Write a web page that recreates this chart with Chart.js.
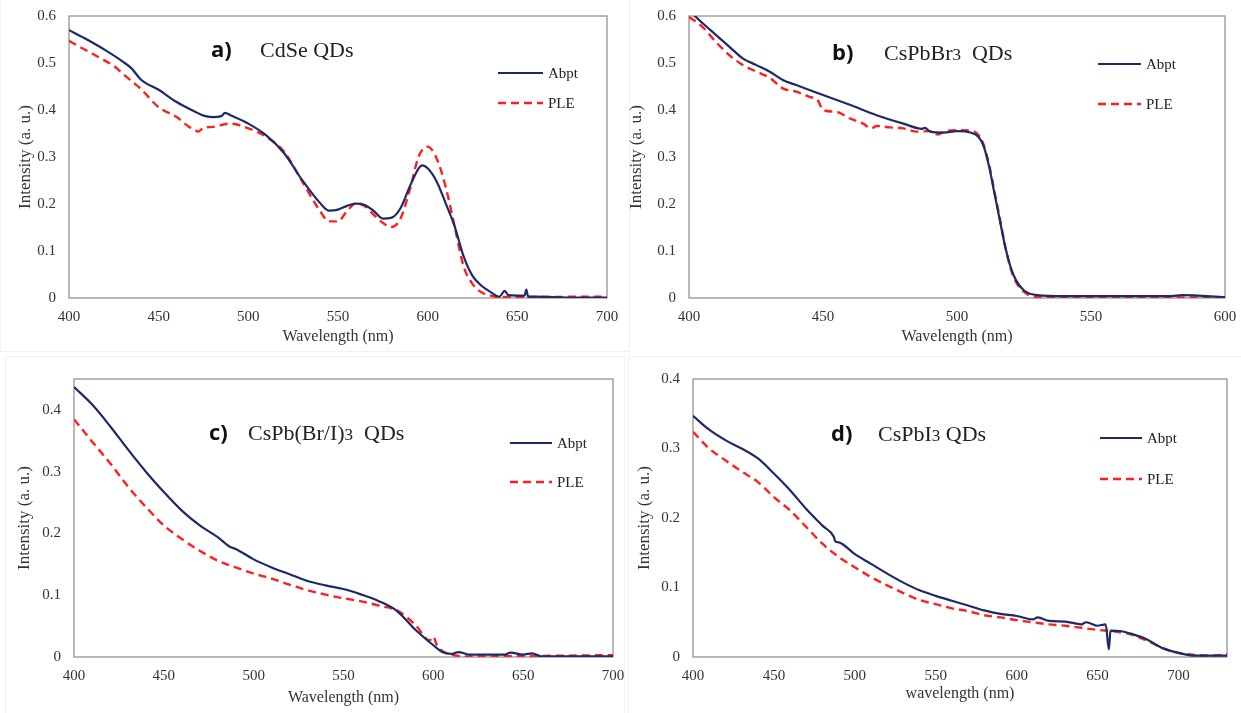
<!DOCTYPE html>
<html lang="en">
<head>
<meta charset="UTF-8">
<title>Abpt / PLE spectra</title>
<script src="https://cdn.jsdelivr.net/npm/chart.js"></script>
<style>
  body { margin: 0; background: #fff; }
  #wrap { position: relative; width: 1241px; height: 713px; overflow: hidden; }
  #wrap canvas { position: absolute; }
  .sep { position: absolute; border: 1px solid #f2f2f2; }
</style>
</head>
<body>
<div id="wrap">
  <div class="sep" style="left:0;top:-2px;width:628px;height:352px"></div>
  <div class="sep" style="left:5px;top:356px;width:618px;height:360px"></div>
  <div class="sep" style="left:628px;top:356px;width:616px;height:360px"></div>
  <canvas id="chartA" width="625" height="352" style="left:0;top:0"></canvas>
  <canvas id="chartB" width="616" height="352" style="left:625px;top:0"></canvas>
  <canvas id="chartC" width="625" height="357" style="left:0;top:356px"></canvas>
  <canvas id="chartD" width="616" height="357" style="left:625px;top:356px"></canvas>
</div>

<script>
// ---- data (wavelength in nm, intensity in a.u.) ----

// a) CdSe QDs
const aWlAbpt = [400,410,420,430,435,440,450,460,470,475,480,485,487,490,500,510,520,530,540,545,550,555,560,565,570,575,580,585,590,595,597,600,605,610,615,620,625,630,635,640,643,645,650,654,655,656,660,680,700];
const aAbpt   = [.570,.550,.528,.503,.488,.465,.443,.417,.397,.388,.385,.387,.394,.389,.371,.346,.308,.251,.202,.186,.188,.196,.201,.198,.185,.169,.171,.192,.237,.276,.282,.276,.248,.202,.153,.089,.047,.026,.013,.003,.015,.006,.005,.005,.018,.003,.003,.001,.001];
const aWlPle  = [400,410,420,425,430,440,450,460,467,470,472,475,480,490,500,510,520,530,540,545,550,555,560,565,570,575,580,585,590,595,600,605,610,615,620,625,630,635,640,700];
const aPle    = [.547,.526,.505,.494,.477,.445,.406,.385,.364,.358,.354,.362,.364,.371,.361,.343,.311,.248,.185,.163,.163,.185,.201,.195,.177,.160,.151,.170,.230,.301,.322,.297,.237,.153,.068,.030,.012,.005,.002,.003];

// b) CsPbBr3 QDs
const bWlAbpt = [400,405,410,415,420,425,430,435,440,450,460,470,480,487,488,490,495,500,505,508,510,512,514,516,518,520,522,525,530,540,560,580,584,600];
const bAbpt   = [.612,.585,.560,.535,.510,.496,.482,.464,.453,.432,.411,.389,.371,.360,.362,.354,.352,.355,.352,.343,.322,.279,.222,.165,.109,.066,.038,.016,.006,.004,.004,.004,.006,.002];
const bWlPle  = [400,405,410,415,420,425,430,435,440,445,448,450,455,460,465,468,470,475,480,485,490,493,495,500,505,508,510,512,514,516,518,520,522,525,530,600];
const bPle    = [.598,.577,.545,.517,.496,.482,.469,.446,.439,.428,.421,.400,.396,.382,.371,.361,.366,.363,.361,.354,.355,.348,.354,.357,.356,.347,.325,.283,.226,.169,.109,.063,.034,.013,.002,.001];

// c) CsPb(Br/I)3 QDs
const cWlAbpt = [400,410,420,430,440,450,460,470,480,487,490,500,510,520,530,540,550,560,570,580,590,600,605,610,614,620,640,643,650,655,660,700];
const cAbpt   = [.437,.409,.374,.336,.300,.267,.237,.213,.194,.178,.175,.158,.145,.134,.123,.116,.110,.101,.090,.074,.044,.019,.008,.005,.008,.004,.004,.007,.004,.006,.001,.001];
const cWlPle  = [400,410,420,430,440,450,460,470,480,490,500,510,520,530,540,550,560,570,580,590,598,600,602,610,620,700];
const cPle    = [.385,.349,.314,.276,.243,.213,.191,.172,.156,.145,.135,.127,.117,.108,.101,.095,.090,.083,.075,.052,.027,.033,.019,.004,.001,.003];

// d) CsPbI3 QDs
const dWlAbpt = [400,410,420,430,440,450,460,470,480,487,488,490,500,510,520,530,540,550,560,570,580,590,600,610,613,620,630,640,643,650,655,657,658,665,670,680,690,700,710,730];
const dAbpt   = [.347,.327,.312,.300,.286,.264,.240,.213,.189,.173,.166,.165,.148,.134,.120,.107,.096,.088,.081,.074,.067,.062,.059,.054,.057,.052,.051,.047,.050,.045,.047,.011,.038,.037,.034,.026,.013,.006,.002,.002];
const dWlPle  = [400,410,420,430,440,450,460,470,480,490,500,510,520,530,540,550,560,570,580,590,600,610,620,630,640,650,660,670,680,690,700,710,720,730];
const dPle    = [.324,.300,.283,.267,.252,.230,.211,.187,.163,.144,.129,.115,.103,.092,.082,.076,.070,.066,.060,.057,.053,.050,.047,.045,.042,.039,.037,.033,.024,.013,.006,.003,.002,.004];

const seriesNames = ['Abpt', 'PLE'];
const xTickLabels = [400, 450, 500, 550, 600, 650, 700];

const NAVY = '#1c2a68';
const RED = '#ff1f1f';
const SERIF = '"Liberation Serif", "Times New Roman", serif';

function pts(xs, ys) {
  return xs.map((x, i) => ({ x: x, y: ys[i] }));
}

// frame around the plot area + panel title + legend
const decor = {
  id: 'decor',
  beforeDatasetsDraw(chart) {
    const { ctx, chartArea: a } = chart;
    ctx.save();
    ctx.strokeStyle = '#8a8a8a';
    ctx.lineWidth = 1.2;
    ctx.strokeRect(a.left, a.top, a.right - a.left, a.bottom - a.top);
    ctx.restore();
  },
  afterDraw(chart, args, o) {
    const ctx = chart.ctx;
    ctx.save();
    ctx.textBaseline = 'alphabetic';
    ctx.fillStyle = '#111';
    ctx.font = 'bold 22px "Open Sans", "Noto Sans", sans-serif';
    ctx.fillText(o.letter, o.lx, o.by);
    let x = o.nx;
    o.name.forEach(p => {
      ctx.font = (p.small ? '17px ' : '22px ') + SERIF;
      ctx.fillStyle = '#222';
      ctx.fillText(p.t, x, o.by);
      x += ctx.measureText(p.t).width;
    });
    // legend
    ctx.font = '15px ' + SERIF;
    ctx.textBaseline = 'middle';
    chart.data.datasets.forEach((ds, i) => {
      const y = o.legY[i];
      ctx.beginPath();
      ctx.strokeStyle = ds.borderColor;
      ctx.lineWidth = ds.borderWidth;
      ctx.setLineDash(ds.borderDash || []);
      ctx.moveTo(o.legX[0], y);
      ctx.lineTo(o.legX[1], y);
      ctx.stroke();
      ctx.setLineDash([]);
      ctx.fillStyle = '#222';
      ctx.fillText(ds.label, o.legX[1] + 5, y + 1);
    });
    ctx.restore();
  }
};

function makeChart(id, p) {
  new Chart(document.getElementById(id), {
    type: 'line',
    data: {
      datasets: [
        { label: seriesNames[0], data: pts(p.wlA, p.abpt), borderColor: NAVY, borderWidth: 2.2 },
        { label: seriesNames[1], data: pts(p.wlP, p.ple), borderColor: RED, borderWidth: 2.4, borderDash: [8, 5] }
      ]
    },
    options: {
      responsive: false,
      animation: false,
      events: [],
      parsing: false,
      layout: { padding: p.pad },
      elements: { point: { radius: 0 }, line: { cubicInterpolationMode: 'monotone', fill: false } },
      plugins: {
        legend: { display: false },
        tooltip: { enabled: false },
        decor: p.decor
      },
      scales: {
        x: {
          type: 'linear',
          min: 400, max: p.xMax,
          // fixed height, and let the end labels overflow instead of shrinking the plot
          afterFit: s => { s.height = p.xH; s.paddingLeft = 0; s.paddingRight = 0; },
          afterBuildTicks: s => { s.ticks = xTickLabels.filter(v => v <= p.xMax).map(v => ({ value: v })); },
          grid: { display: false, drawTicks: false },
          border: { display: false },
          ticks: { padding: 10, color: '#333', font: { family: SERIF, size: 15 }, maxRotation: 0 },
          title: { display: true, text: p.xTitle, color: '#333', font: { family: SERIF, size: 16 }, padding: { top: 0, bottom: p.xtPad } }
        },
        y: {
          min: 0, max: p.yMax,
          afterFit: s => { s.width = p.yW; s.paddingTop = 0; s.paddingBottom = 0; },
          afterBuildTicks: s => { s.ticks = p.yTicks.map(v => ({ value: v })); },
          grid: { display: false, drawTicks: false },
          border: { display: false },
          ticks: { padding: 13, color: '#333', font: { family: SERIF, size: 15 }, callback: v => String(+v.toFixed(1)) },
          title: { display: true, text: 'Intensity (a. u.)', color: '#333', font: { family: SERIF, size: 17 }, padding: { top: p.ytPad, bottom: 0 } }
        }
      }
    },
    plugins: [decor]
  });
}

makeChart('chartA', {
  wlA: aWlAbpt, abpt: aAbpt, wlP: aWlPle, ple: aPle,
  xMax: 700, yMax: 0.6, yTicks: [0, .1, .2, .3, .4, .5, .6],
  pad: { left: 0, top: 16, right: 18, bottom: 0 }, yW: 69, xH: 54,
  xTitle: 'Wavelength (nm)', xtPad: 6, ytPad: 15,
  decor: { letter: 'a)', lx: 211, nx: 260, by: 57, name: [{ t: 'CdSe QDs' }],
           legX: [498, 543], legY: [73, 103] }
});

makeChart('chartB', {
  wlA: bWlAbpt, abpt: bAbpt, wlP: bWlPle, ple: bPle,
  xMax: 600, yMax: 0.6, yTicks: [0, .1, .2, .3, .4, .5, .6],
  pad: { left: 0, top: 16, right: 16, bottom: 0 }, yW: 64, xH: 54,
  xTitle: 'Wavelength (nm)', xtPad: 6, ytPad: 1,
  decor: { letter: 'b)', lx: 207, nx: 259, by: 60, name: [{ t: 'CsPbBr' }, { t: '3', small: true }, { t: '  QDs' }],
           legX: [473, 516], legY: [64, 104] }
});

makeChart('chartC', {
  wlA: cWlAbpt, abpt: cAbpt, wlP: cWlPle, ple: cPle,
  xMax: 700, yMax: 0.45, yTicks: [0, .1, .2, .3, .4],
  pad: { left: 0, top: 23, right: 12, bottom: 0 }, yW: 74, xH: 56,
  xTitle: 'Wavelength (nm)', xtPad: 6, ytPad: 14,
  decor: { letter: 'c)', lx: 209, nx: 248, by: 84, name: [{ t: 'CsPb(Br/I)' }, { t: '3', small: true }, { t: '  QDs' }],
           legX: [510, 552], legY: [87, 126] }
});

makeChart('chartD', {
  wlA: dWlAbpt, abpt: dAbpt, wlP: dWlPle, ple: dPle,
  xMax: 730, yMax: 0.4, yTicks: [0, .1, .2, .3, .4],
  pad: { left: 0, top: 23, right: 14, bottom: 0 }, yW: 68, xH: 56,
  xTitle: 'wavelength (nm)', xtPad: 10, ytPad: 9,
  decor: { letter: 'd)', lx: 206, nx: 253, by: 85, name: [{ t: 'CsPbI' }, { t: '3', small: true }, { t: ' QDs' }],
           legX: [475, 517], legY: [82, 123] }
});
</script>
</body>
</html>
